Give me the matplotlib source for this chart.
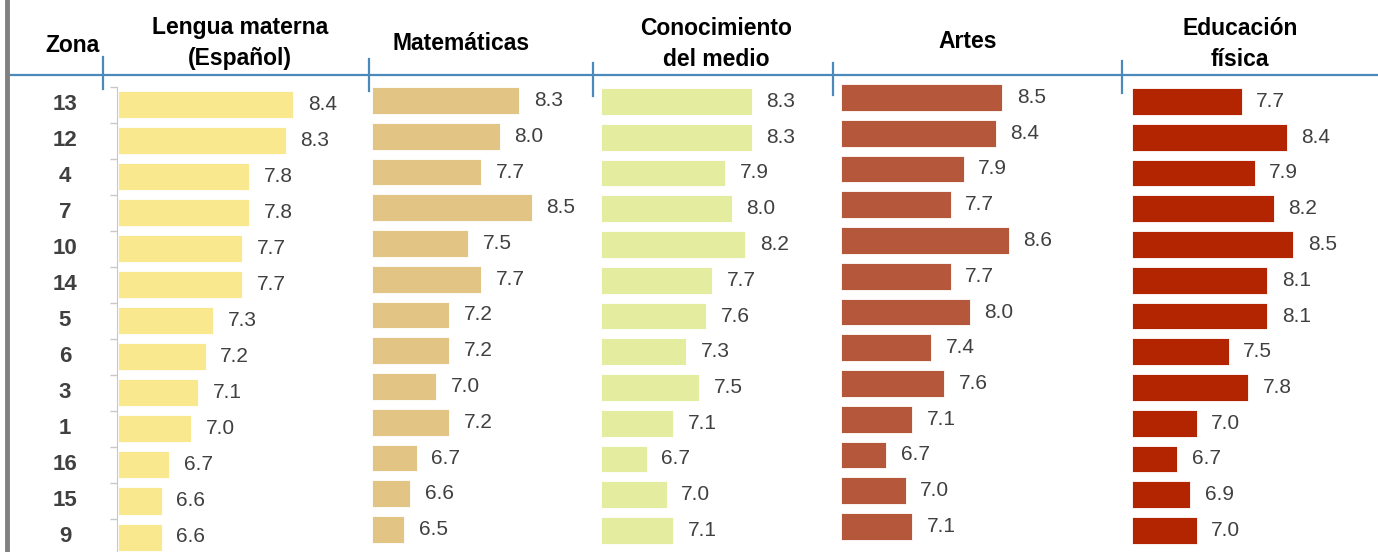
import numpy as np
import matplotlib
matplotlib.use('Agg')
import matplotlib.pyplot as plt
from matplotlib.lines import Line2D
from matplotlib.transforms import blended_transform_factory

# data
zonas = ['13', '12', '4', '7', '10', '14', '5', '6', '3', '1', '16', '15', '9']
materias = ['Lengua materna\n(Español)', 'Matemáticas', 'Conocimiento\ndel medio',
            'Artes', 'Educación\nfísica']
lengua = [8.4, 8.3, 7.8, 7.8, 7.7, 7.7, 7.3, 7.2, 7.1, 7.0, 6.7, 6.6, 6.6]
matematicas = [8.3, 8.0, 7.7, 8.5, 7.5, 7.7, 7.2, 7.2, 7.0, 7.2, 6.7, 6.6, 6.5]
conocimiento = [8.3, 8.3, 7.9, 8.0, 8.2, 7.7, 7.6, 7.3, 7.5, 7.1, 6.7, 7.0, 7.1]
artes = [8.5, 8.4, 7.9, 7.7, 8.6, 7.7, 8.0, 7.4, 7.6, 7.1, 6.7, 7.0, 7.1]
ed_fisica = [7.7, 8.4, 7.9, 8.2, 8.5, 8.1, 8.1, 7.5, 7.8, 7.0, 6.7, 6.9, 7.0]
series = [lengua, matematicas, conocimiento, artes, ed_fisica]

colores = ['#F9E88E', '#E2C584', '#E3EC9F', '#B5573A', '#B32500']

# layout in pixels: (bar start x, px per unit, first row center y, row pitch, axes width, title x, title y)
W, H = 1378, 552
layout = [(118, 73.0, 105.0, 36.0, 250, 240, 43),
          (372, 64.0, 100.5, 35.75, 220, 461, 43),
          (601, 65.5, 101.5, 35.75, 230, 716, 44),
          (841, 64.5, 97.5, 35.75, 280, 968, 42),
          (1132, 64.5, 101.5, 35.75, 246, 1240, 44)]
sep_ticks = [(103, 57, 89), (369, 59, 91), (593, 63, 96), (833, 63, 95), (1122, 61, 93)]

plt.rcParams['font.family'] = ['Liberation Sans', 'DejaVu Sans']

fig = plt.figure(figsize=(W/100, H/100), dpi=100)


def px_axes(left, top, width, height):
    return fig.add_axes([left/W, 1-(top+height)/H, width/W, height/H])


xmin = 6.0
ypos = np.arange(len(zonas))
axes = []
for i, vals in enumerate(series):
    x0, slope, c0, pitch, wd, tx, ty = layout[i]
    ax = px_axes(x0, c0 - pitch/2, wd, pitch*len(zonas))
    ax.set_xlim(xmin, xmin + wd/slope)
    ax.set_ylim(len(zonas)-0.5, -0.5)
    ax.barh(ypos, np.array(vals)-xmin, left=xmin, height=0.75,
            color=colores[i], edgecolor='#FFFFFF', linewidth=0.6)
    for y, v in zip(ypos, vals):
        ax.annotate('%.1f' % v, (v, y), xytext=(10.5, 0), textcoords='offset points',
                    ha='left', va='center', fontsize=15, color='#404040')
    for s in ax.spines.values():
        s.set_visible(False)
    ax.set_xticks([])
    ax.set_yticks([])
    ax.patch.set_alpha(0)
    fig.text(tx/W, 1-ty/H, materias[i], ha='center', va='center', fontsize=16.5,
             fontweight='bold', color='black', linespacing=1.4)
    axes.append(ax)

# first panel keeps its category axis line
ax1 = axes[0]
ax1.spines['left'].set_visible(True)
ax1.spines['left'].set_color('#C8C8C8')
ax1.spines['left'].set_position(('outward', 1))
ax1.set_yticks(np.arange(-0.5, len(zonas), 1.0), minor=True)
ax1.tick_params(axis='y', which='minor', length=5, color='#C8C8C8', width=1)
trans = blended_transform_factory(fig.transFigure, ax1.transData)
for y, z in zip(ypos, zonas):
    ax1.text(65/W, y, z, transform=trans, ha='center', va='center', fontsize=16,
             fontweight='bold', color='#404040')

fig.text(72/W, 1-45/H, 'Zona', ha='center', va='center', fontsize=16.5,
         fontweight='bold', color='black')

# header rule and separators
fig.add_artist(Line2D([8/W, 1], [1-75/H, 1-75/H], color='#4A89BA', lw=1.6))
for x, y0, y1 in sep_ticks:
    fig.add_artist(Line2D([x/W, x/W], [1-y0/H, 1-y1/H], color='#4A89BA', lw=1.6))
fig.add_artist(Line2D([7/W, 7/W], [0, 1], color='#808080', lw=3.5))

fig.savefig('out.png', dpi=100)
